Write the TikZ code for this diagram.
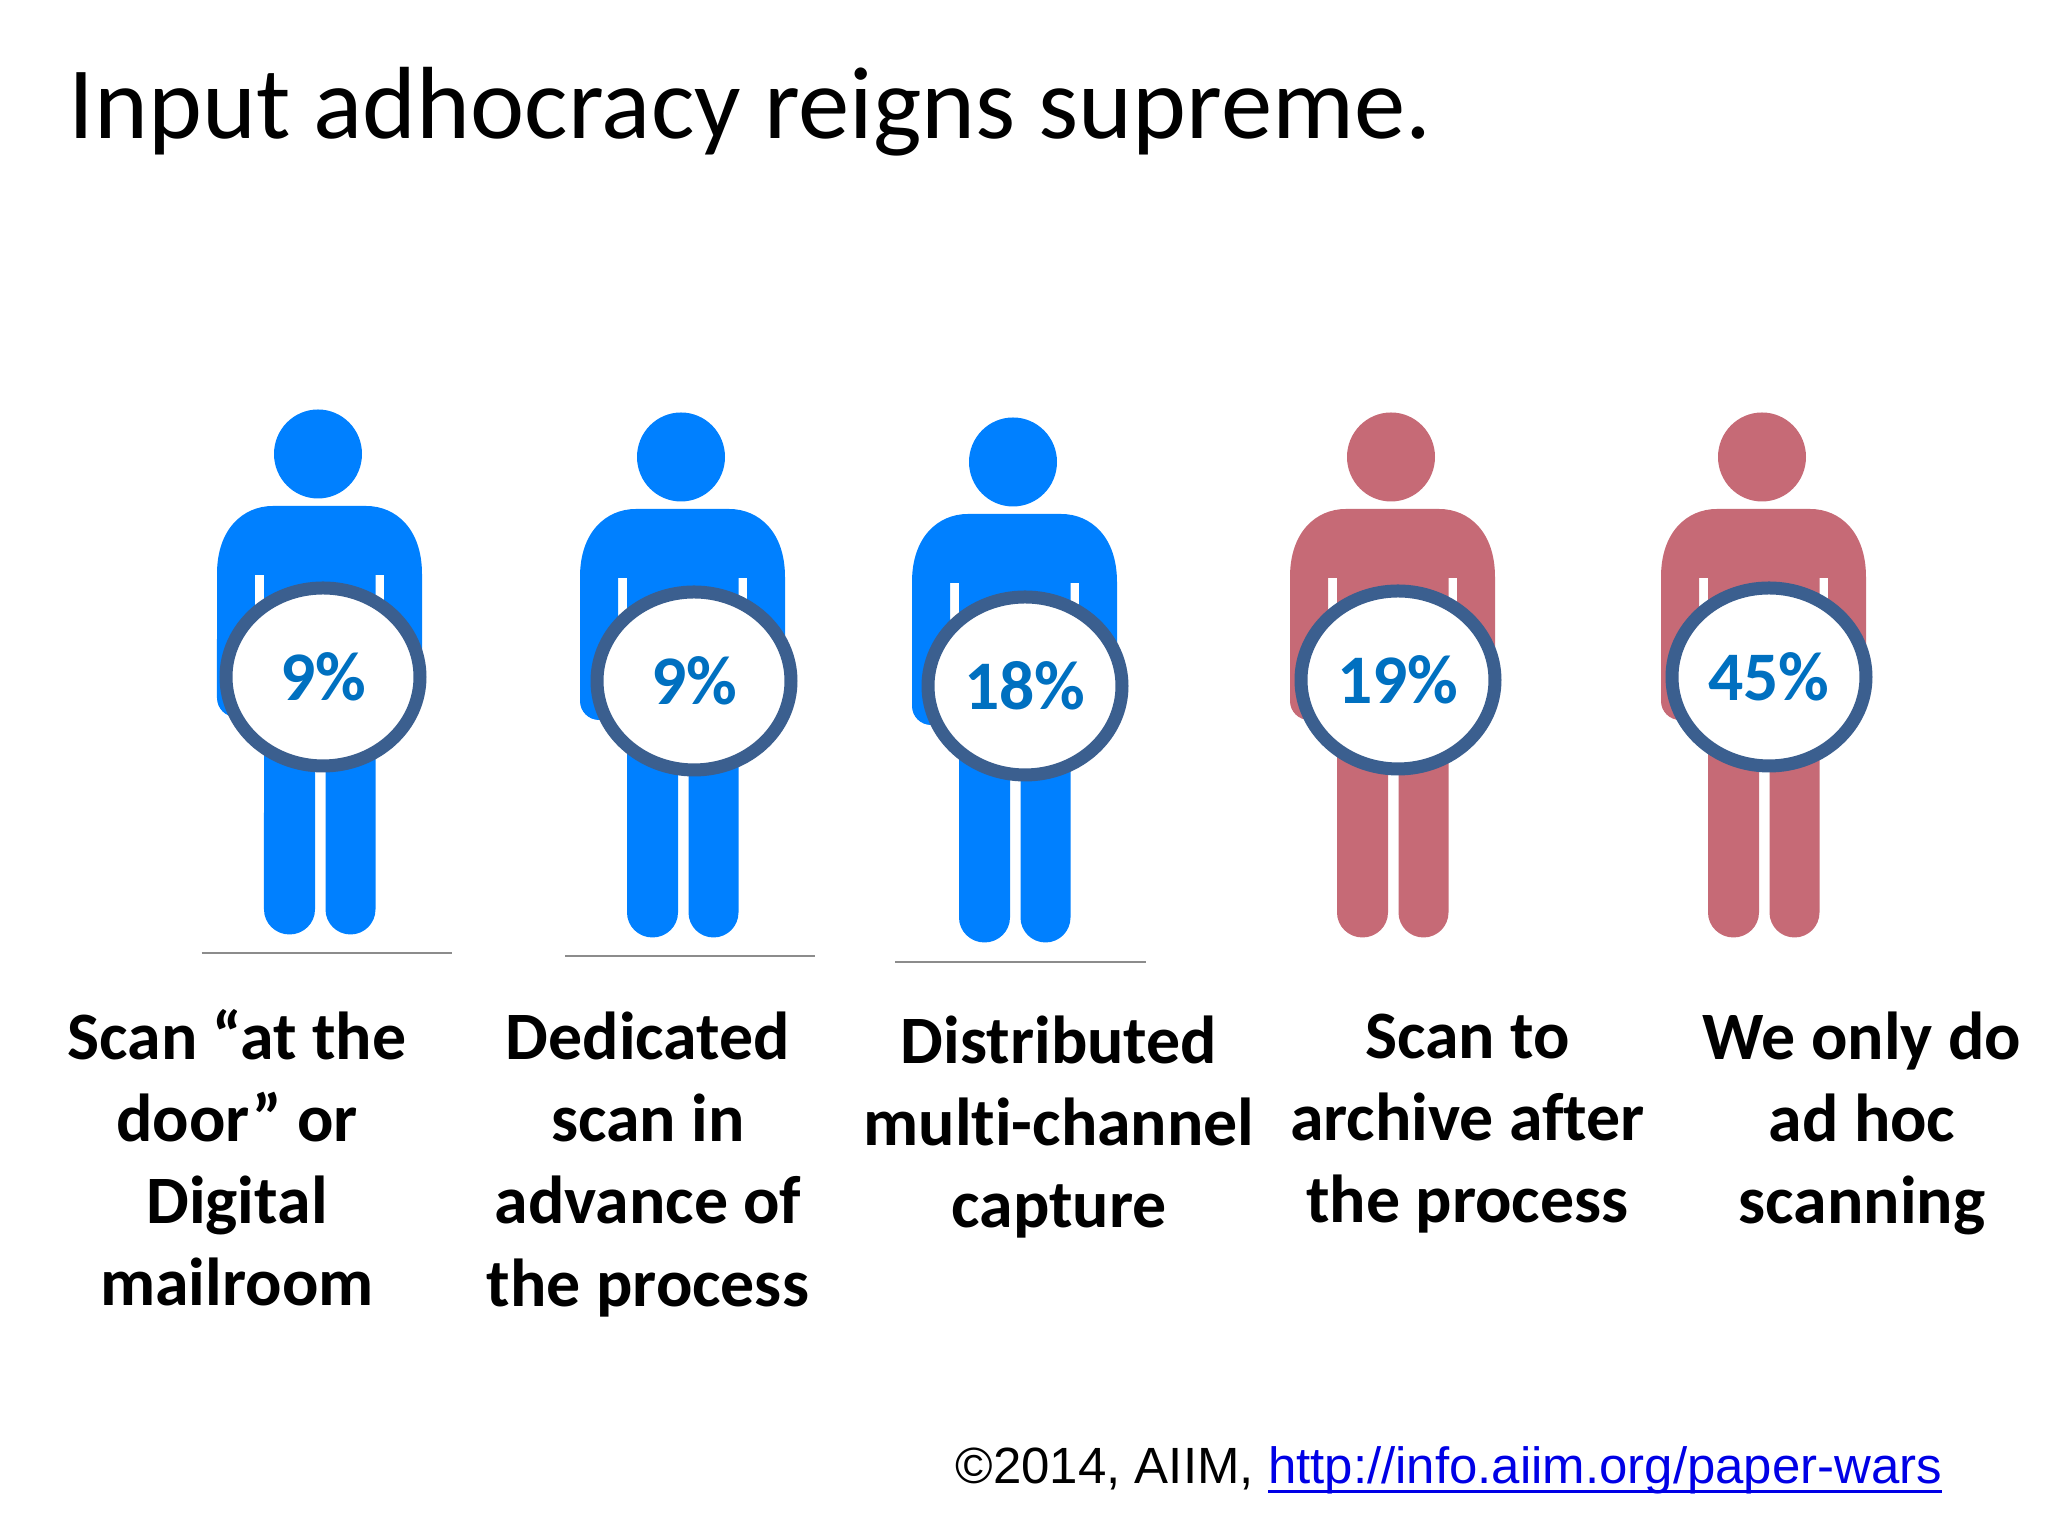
\documentclass[tikz,border=0pt]{standalone}
\usepackage{fontspec}
\setmainfont{Carlito}[Ligatures=NoCommon]
\newfontfamily\linkfont{Liberation Sans}
\usetikzlibrary{shapes.geometric}
\definecolor{figblue}{HTML}{0080FF}
\definecolor{figred}{HTML}{C66A76}
\definecolor{ringblue}{HTML}{3B5F8F}
\definecolor{pctblue}{HTML}{0070C0}
\definecolor{linkblue}{HTML}{0000E6}
\tikzset{
	ring/.style={ellipse, draw=ringblue, line width=1.3mm, fill=white, minimum width=19.4mm, minimum height=17.8mm, inner sep=0pt, text=pctblue, font=\fontsize{19.8}{24}\selectfont\bfseries},
	caption/.style={anchor=north, align=center, inner sep=0pt, execute at begin node=\strut, font=\fontsize{19.3}{23.4}\selectfont\bfseries},
	floorline/.style={line width=0.2mm, color=black!45}
}
% underline close under the text
\newcommand{\linktext}[1]{\setbox0\hbox{#1}\rlap{\rule[-2.6pt]{\wd0}{0.85pt}}\box0}
% one standing figure, #1 = colour, (#2,#3) = centre of the head
\newcommand{\figperson}[3]{
	\begin{scope}[shift={(#2,#3)}]
		\fill [#1] (0,0) ellipse (0.44 and 0.445);
		\fill [#1] (-1.01,-1.2) .. controls (-1.01,-0.75) and (-0.75,-0.52) .. (-0.45,-0.52) -- (0.48,-0.52)
			.. controls (0.78,-0.52) and (1.04,-0.75) .. (1.04,-1.2) -- (1.04,-2.44)
			arc [start angle=0, end angle=-180, radius=0.19] -- (0.66,-1.21) -- (0.575,-1.21) -- (0.575,-4.555)
			arc [start angle=0, end angle=-180, x radius=0.25, y radius=0.25] -- (0.075,-3) -- (-0.03,-3) -- (-0.03,-4.555)
			arc [start angle=0, end angle=-180, x radius=0.255, y radius=0.25] -- (-0.54,-1.21) -- (-0.63,-1.21) -- (-0.63,-2.44)
			arc [start angle=0, end angle=-180, radius=0.19] -- cycle;
	\end{scope}
}
\begin{document}
\begin{tikzpicture}
	\useasboundingbox [fill=white] (0,0) rectangle (20.48,15.36);
	\node [anchor=base west, inner sep=0pt, font=\fontsize{29.2}{29.2}\selectfont] (title) at (0.68,13.97) {Input adhocracy reigns supreme.};

	\figperson{figblue}{3.18}{10.82}
	\figperson{figblue}{6.81}{10.79}
	\figperson{figblue}{10.13}{10.74}
	\figperson{figred}{13.91}{10.79}
	\figperson{figred}{17.62}{10.79}

	\draw [floorline] (2.015,5.83) -- (4.52,5.83);
	\draw [floorline] (5.65,5.80) -- (8.15,5.80);
	\draw [floorline] (8.95,5.74) -- (11.46,5.74);

	\node [ring] (pctA) at (3.23,8.59) {9\%};
	\node [ring] (pctB) at (6.94,8.55) {9\%};
	\node [ring] (pctC) at (10.25,8.50) {18\%};
	\node [ring] (pctD) at (13.98,8.56) {19\%};
	\node [ring] (pctE) at (17.69,8.59) {45\%};

	\node [caption] (capA) at (2.37,5.275) {Scan “at the\\door” or\\Digital\\mailroom};
	\node [caption] (capB) at (6.48,5.25) {Dedicated\\scan in\\advance of\\the process};
	\node [caption] (capC) at (10.59,5.21) {Distributed\\multi-channel\\capture};
	\node [caption] (capD) at (14.675,5.23) {Scan to\\archive after\\the process};
	\node [caption] (capE) at (18.62,5.25) {We only do\\ad hoc\\scanning};

	\node [anchor=base west, inner sep=0pt, font=\linkfont\fontsize{14.5}{14.5}\selectfont] (source) at (9.55,0.525) {©2014, AIIM, {\color{linkblue}\linktext{http://info.aiim.org/paper-wars}}};
\end{tikzpicture}
\end{document}
